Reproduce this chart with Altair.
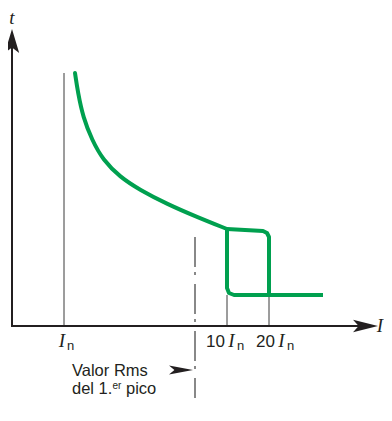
import altair as alt
import pandas as pd

# ---------------- data (schematic grid units, origin where the axes cross) ----------------
# inverse-time (long delay) part of the trip characteristic
curve_x = [6.3, 6.6, 7.1, 8.0, 9.1, 10.8, 12.8, 15.5, 18.5, 21.5]
curve_y = [25.3, 23.3, 20.9, 18.6, 16.6, 14.9, 13.6, 12.2, 10.9, 9.7]
# upper edge of the tolerance band: flat to 20 In, then drop
upper_x = [21.5, 25.1, 25.5, 25.7, 25.7, 31.1]
upper_y = [9.7, 9.5, 9.3, 8.9, 3.1, 3.1]
# lower edge of the band: drop at 10 In
lower_x = [21.5, 21.5, 21.7, 22.2, 25.7]
lower_y = [9.7, 3.8, 3.3, 3.1, 3.1]

# thin reference lines: In, 10 In, 20 In
ref_x = [5.2, 21.5, 25.7]
ref_top = [25.3, 3.1, 3.1]

# dash-dot line: rms value of the first peak
peak_x = 18.3
peak_top, peak_bottom = 8.9, -9.5

# axes extents
x_axis_end = 35.3
y_axis_end = 28.5

# arrow heads (position of each head's centre)
up_arrow = (0.0, 28.5)
right_arrow = (35.35, 0.0)
note_arrow = (16.9, -4.4)

# labels
serif_text = ["t", "I", "I", "I", "I"]
serif_x = [0.0, 36.8, 5.0, 21.95, 26.95]
serif_y = [30.2, -0.6, -2.1, -2.1, -2.1]

num_text = ["10", "20"]
num_x = [21.3, 26.3]
num_y = [-2.1, -2.1]

sub_text = ["n", "n", "n"]
sub_x = [5.5, 22.5, 27.5]
sub_y = [-2.4, -2.4, -2.4]

note_text = ["Valor Rms", "del 1.", "pico"]
note_x = [6.0, 6.0, 11.4]
note_y = [-5.0, -6.8, -6.8]

sup_text = ["er"]
sup_x = [10.05]
sup_y = [-6.25]

# ---------------- chart ----------------
W, H = 376, 390
xsc = alt.Scale(domain=[-0.4, 37.2], nice=False, zero=False)
ysc = alt.Scale(domain=[-7.2, 31.8], nice=False, zero=False)


def X(f="x"):
    return alt.X(f"{f}:Q", scale=xsc, axis=None)


def Y(f="y"):
    return alt.Y(f"{f}:Q", scale=ysc, axis=None)


GREEN = "#00A04F"
INK = "#231F20"
THIN = "#3A3A3A"


def path_df(xs, ys):
    return pd.DataFrame({"x": xs, "y": ys, "i": list(range(len(xs)))})


def pts(xs, ys, texts=None):
    d = {"x": xs, "y": ys}
    if texts is not None:
        d["t"] = texts
    return pd.DataFrame(d)


curve = alt.Chart(path_df(curve_x, curve_y)).mark_line(
    color=GREEN, strokeWidth=4, interpolate="basis", strokeCap="round"
).encode(x=X(), y=Y(), order="i:Q")

upper = alt.Chart(path_df(upper_x, upper_y)).mark_line(
    color=GREEN, strokeWidth=4, strokeJoin="round", strokeCap="butt"
).encode(x=X(), y=Y(), order="i:Q")

lower = alt.Chart(path_df(lower_x, lower_y)).mark_line(
    color=GREEN, strokeWidth=4, strokeJoin="round", strokeCap="butt"
).encode(x=X(), y=Y(), order="i:Q")

refs = alt.Chart(pd.DataFrame({"x": ref_x, "y": [0.0] * len(ref_x), "y2": ref_top})).mark_rule(
    color=THIN, strokeWidth=1
).encode(x=X(), y=Y(), y2="y2:Q")

peak = alt.Chart(pd.DataFrame({"x": [peak_x], "y": [peak_top], "y2": [peak_bottom]})).mark_rule(
    color=THIN, strokeWidth=1.2, strokeDash=[30, 5, 3, 9], clip=True
).encode(x=X(), y=Y(), y2="y2:Q")

x_axis = alt.Chart(pd.DataFrame({"x": [-0.1], "x2": [x_axis_end], "y": [0.0]})).mark_rule(
    color=INK, strokeWidth=2
).encode(x=X(), x2="x2:Q", y=Y())

y_axis = alt.Chart(pd.DataFrame({"x": [0.0], "y": [-0.1], "y2": [y_axis_end]})).mark_rule(
    color=INK, strokeWidth=2
).encode(x=X(), y=Y(), y2="y2:Q")

head_up = alt.Chart(pts([up_arrow[0]], [up_arrow[1]])).mark_point(
    shape="M0,-1L0.6,1L0,0.55L-0.6,1Z", size=576, filled=True, color=INK, opacity=1
).encode(x=X(), y=Y())

head_right = alt.Chart(pts([right_arrow[0]], [right_arrow[1]])).mark_point(
    shape="M1,0L-1,-0.5L-0.55,0L-1,0.5Z", size=625, filled=True, color=INK, opacity=1
).encode(x=X(), y=Y())

head_note = alt.Chart(pts([note_arrow[0]], [note_arrow[1]])).mark_point(
    shape="M1,0L-1,-0.38L-0.55,0L-1,0.38Z", size=576, filled=True, color=INK, opacity=1
).encode(x=X(), y=Y())

serif = alt.Chart(pts(serif_x, serif_y, serif_text)).mark_text(
    font="Liberation Serif", fontStyle="italic", fontSize=19, color=INK,
    align="center", baseline="alphabetic"
).encode(x=X(), y=Y(), text="t:N")

nums = alt.Chart(pts(num_x, num_y, num_text)).mark_text(
    font="Liberation Sans", fontSize=17, color=INK, align="right", baseline="alphabetic"
).encode(x=X(), y=Y(), text="t:N")

subs = alt.Chart(pts(sub_x, sub_y, sub_text)).mark_text(
    font="Liberation Sans", fontSize=13, color=INK, align="left", baseline="alphabetic"
).encode(x=X(), y=Y(), text="t:N")

notes = alt.Chart(pts(note_x, note_y, note_text)).mark_text(
    font="Liberation Sans", fontSize=16.5, color=INK, align="left", baseline="alphabetic"
).encode(x=X(), y=Y(), text="t:N")

sups = alt.Chart(pts(sup_x, sup_y, sup_text)).mark_text(
    font="Liberation Sans", fontSize=10, color=INK, align="left", baseline="alphabetic"
).encode(x=X(), y=Y(), text="t:N")

chart = alt.layer(
    refs, peak, x_axis, y_axis, curve, upper, lower,
    head_up, head_right, head_note, serif, nums, subs, notes, sups,
).properties(
    width=W, height=H, autosize=alt.AutoSizeParams(type="none"), padding=0,
    background="white",
).configure_view(stroke=None)

chart.save("out.html", embed_options={"renderer": "svg", "actions": False})
